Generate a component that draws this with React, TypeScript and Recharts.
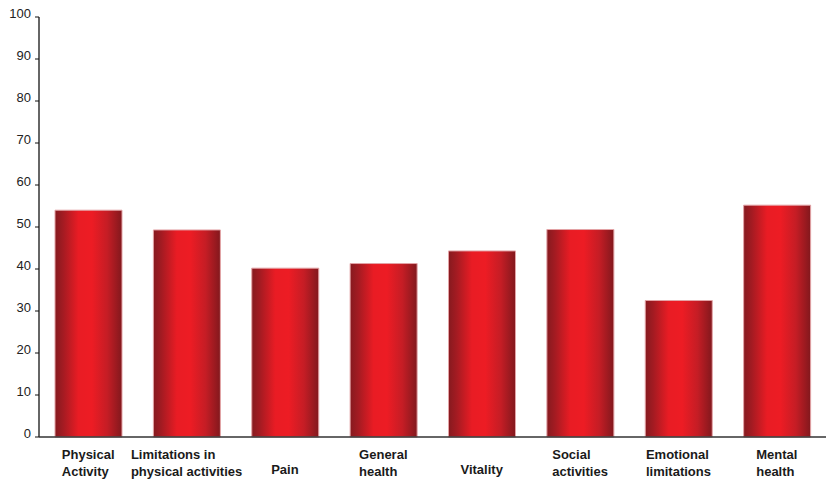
import React from 'react';
import { BarChart, Bar, XAxis, YAxis } from 'recharts';

const categories = [
  'Physical Activity',
  'Limitations in physical activities',
  'Pain',
  'General health',
  'Vitality',
  'Social activities',
  'Emotional limitations',
  'Mental health',
];

// how each category label is broken on the axis
const labelLines = [
  ['Physical', 'Activity'],
  ['Limitations in', 'physical activities'],
  ['Pain'],
  ['General', 'health'],
  ['Vitality'],
  ['Social', 'activities'],
  ['Emotional', 'limitations'],
  ['Mental', 'health'],
];

const scores = [54, 49.3, 40.2, 41.3, 44.3, 49.4, 32.5, 55.2];

const yTicks = [0, 10, 20, 30, 40, 50, 60, 70, 80, 90, 100];

const data = categories.map((name, i) => ({ name, value: scores[i] }));

const FONT = '"Liberation Sans", Arial, Helvetica, sans-serif';

let ctx: CanvasRenderingContext2D | null = null;
const measure = (s: string) => {
  if (!ctx) ctx = document.createElement('canvas').getContext('2d');
  if (!ctx) return s.length * 7;
  ctx.font = `bold 13px ${FONT}`;
  return ctx.measureText(s).width;
};

const XTick = ({ x, y, payload }: any) => {
  const idx = categories.indexOf(payload.value);
  const lines = labelLines[idx] || [payload.value];
  const w = Math.max(...lines.map(measure));
  const left = x - w / 2;
  return (
    <g>
      {lines.length === 1 ? (
        <text x={x} y={y + 37} textAnchor="middle" fontSize={13} fontWeight="bold" fontFamily={FONT} fill="#1a1a1a">
          {lines[0]}
        </text>
      ) : (
        lines.map((l: string, i: number) => (
          <text key={i} x={left} y={y + 22 + i * 17} textAnchor="start" fontSize={13} fontWeight="bold" fontFamily={FONT} fill="#1a1a1a">
            {l}
          </text>
        ))
      )}
    </g>
  );
};

const YTick = ({ x, y, payload }: any) => (
  <text x={x} y={y + 1} textAnchor="end" fontSize={13} fontFamily={FONT} fill="#222">
    {payload.value}
  </text>
);

export default function App() {
  return (
    <div style={{ position: 'fixed', top: 0, left: 0, background: '#fff' }}>
      <BarChart
        width={835}
        height={487}
        data={data}
        margin={{ top: 17, right: 9, bottom: 0, left: 0 }}
        barSize={67}
      >
        <defs>
          <linearGradient id="barGrad" x1="0" y1="0" x2="1" y2="0">
            <stop offset="0%" stopColor="#861a1f" />
            <stop offset="12%" stopColor="#a31b22" />
            <stop offset="35%" stopColor="#e91c24" />
            <stop offset="55%" stopColor="#ed1c24" />
            <stop offset="78%" stopColor="#c51d25" />
            <stop offset="100%" stopColor="#82181d" />
          </linearGradient>
        </defs>
        <XAxis
          dataKey="name"
          height={50}
          interval={0}
          tickLine={false}
          tickSize={0}
          tickMargin={0}
          axisLine={{ stroke: '#333', strokeWidth: 1.5 }}
          tick={<XTick />}
        />
        <YAxis
          width={39}
          domain={[0, 100]}
          ticks={yTicks}
          interval={0}
          tickSize={4}
          tickMargin={4}
          tickLine={{ stroke: '#111', strokeWidth: 1 }}
          axisLine={{ stroke: '#333', strokeWidth: 1.5 }}
          tick={<YTick />}
        />
        <Bar
          dataKey="value"
          fill="url(#barGrad)"
          stroke="#e3a3a6"
          strokeWidth={1}
          isAnimationActive={false}
        />
      </BarChart>
    </div>
  );
}
